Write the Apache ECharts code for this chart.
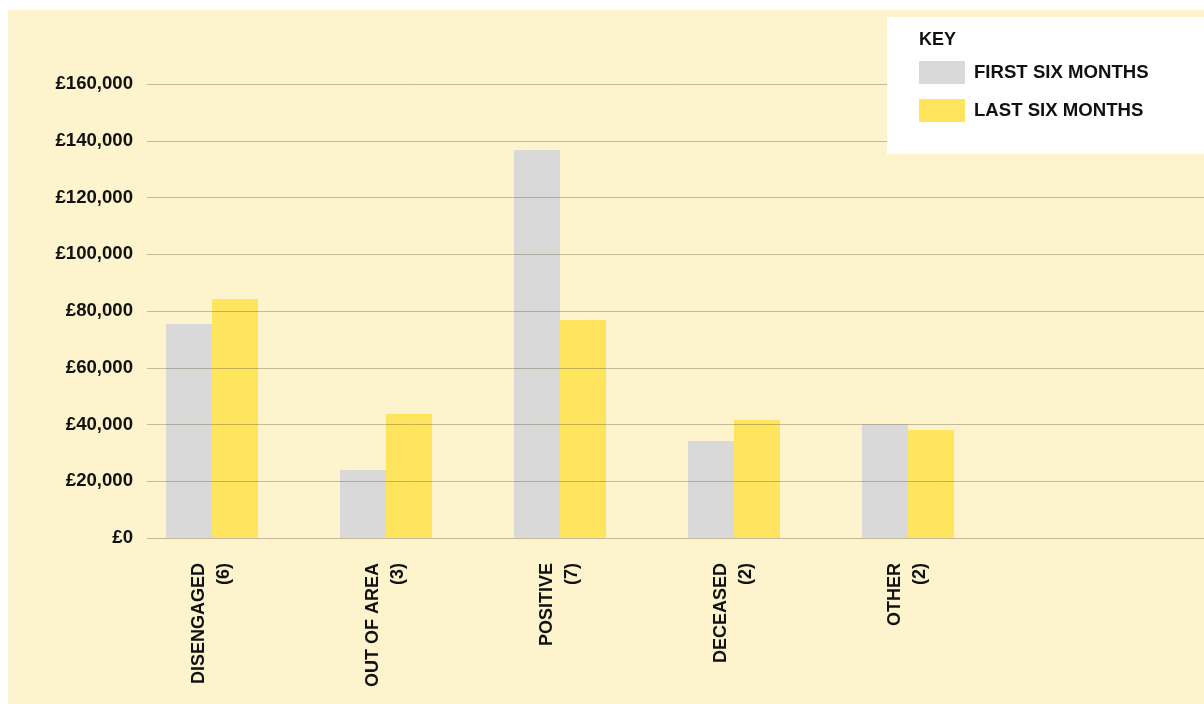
<!DOCTYPE html>
<html>
<head>
<meta charset="utf-8">
<script src="https://cdn.jsdelivr.net/npm/echarts@6/dist/echarts.min.js"></script>
<style>
html,body{margin:0;padding:0;background:#fff;}
#chart{width:1204px;height:704px;}
</style>
</head>
<body>
<div id="chart"></div>
<script>
const categories = ['DISENGAGED\n(6)', 'OUT OF AREA\n(3)', 'POSITIVE\n(7)', 'DECEASED\n(2)', 'OTHER\n(2)', ''];
const seriesNames = ['FIRST SIX MONTHS', 'LAST SIX MONTHS'];
const firstSixMonths = [75400, 24000, 136700, 34200, 40100, null];
const lastSixMonths = [84200, 43700, 76800, 41600, 38100, null];
const yTicks = [0, 20000, 40000, 60000, 80000, 100000, 120000, 140000, 160000];

const FONT = '"Liberation Sans", Arial, sans-serif';
const gridColor = 'rgba(110,100,70,0.4)';

const chart = echarts.init(document.getElementById('chart'), null, {renderer: 'canvas'});
chart.setOption({
  backgroundColor: '#ffffff',
  animation: false,
  textStyle: {fontFamily: FONT},
  graphic: [
    {type: 'rect', z: -10, shape: {x: 8, y: 10, width: 1196, height: 694}, style: {fill: '#FDF4CD'}},
    {type: 'rect', z: 100, shape: {x: 887, y: 17, width: 317, height: 137}, style: {fill: '#ffffff'}}
  ],
  title: {
    text: 'KEY', left: 919, top: 31, padding: 0, z: 120,
    textStyle: {fontFamily: FONT, fontWeight: 'bold', fontSize: 18, color: '#111', lineHeight: 18}
  },
  legend: {
    data: seriesNames,
    orient: 'vertical', left: 919, top: 61, padding: 0,
    itemWidth: 46, itemHeight: 23, itemGap: 15, icon: 'rect', z: 120,
    textStyle: {fontFamily: FONT, fontWeight: 'bold', fontSize: 18.6, color: '#111', padding: [0, 0, 0, 4]}
  },
  grid: [
    {left: 147, right: 0, top: 84, bottom: 166},
    {left: 125, right: 35, top: 84, bottom: 166}
  ],
  xAxis: [
    {type: 'category', gridIndex: 0, data: categories, show: false},
    {
      type: 'category', gridIndex: 1, data: categories,
      axisLine: {show: false}, axisTick: {show: false},
      axisLabel: {
        rotate: 90, margin: 25, interval: 0,
        fontFamily: FONT, fontWeight: 'bold', fontSize: 18, color: '#111', lineHeight: 25
      }
    }
  ],
  yAxis: [
    {
      type: 'value', gridIndex: 0, min: 0, max: 160000, interval: 20000, z: 5,
      axisLine: {show: false}, axisTick: {show: false},
      splitLine: {show: true, lineStyle: {color: gridColor, width: 1}},
      axisLabel: {
        margin: 14, fontFamily: FONT, fontWeight: 'bold', fontSize: 18.6, color: '#111',
        formatter: v => yTicks.includes(v) ? '£' + v.toLocaleString('en-GB') : ''
      }
    },
    {type: 'value', gridIndex: 1, min: 0, max: 160000, interval: 20000, show: false, splitLine: {show: false}}
  ],
  series: [
    {
      name: seriesNames[0], type: 'bar', xAxisIndex: 1, yAxisIndex: 1,
      data: firstSixMonths, barWidth: 46, barGap: '0%', z: 2,
      itemStyle: {color: '#D9D9D9'}
    },
    {
      name: seriesNames[1], type: 'bar', xAxisIndex: 1, yAxisIndex: 1,
      data: lastSixMonths, barWidth: 46, barGap: '0%', z: 2,
      itemStyle: {color: '#FFE45E'}
    }
  ]
});
</script>
</body>
</html>
